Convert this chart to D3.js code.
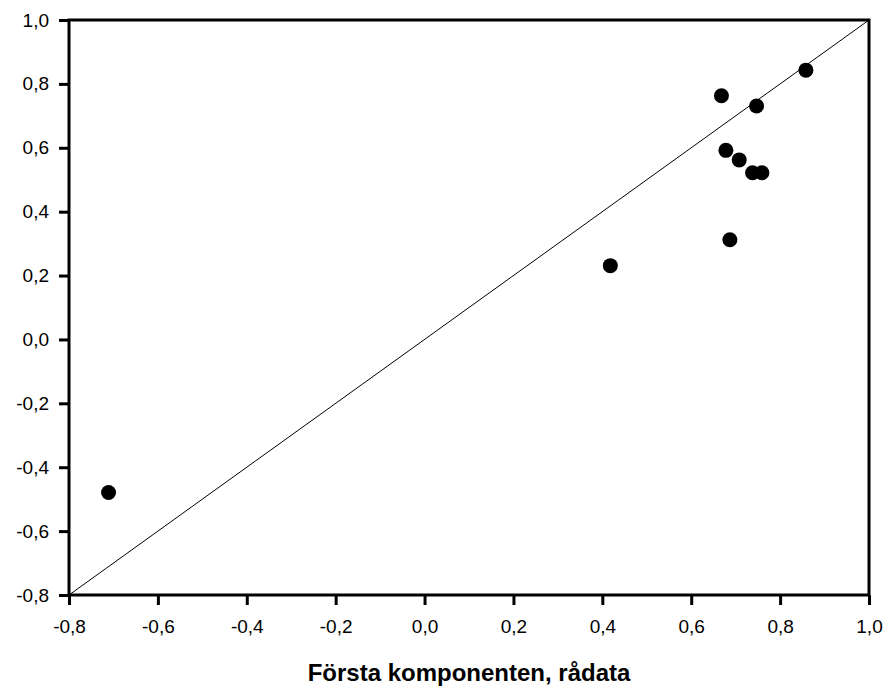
<!DOCTYPE html>
<html>
<head>
<meta charset="utf-8">
<script src="https://cdn.jsdelivr.net/npm/d3@7"></script>
<style>
  body { margin: 0; background: #fff; }
  svg { display: block; }
</style>
</head>
<body>
<svg width="886" height="690"></svg>
<script>
const xValues = [-0.711, 0.418, 0.668, 0.678, 0.687, 0.708, 0.738, 0.747, 0.759, 0.858];
const yValues = [-0.479, 0.231, 0.763, 0.592, 0.312, 0.562, 0.522, 0.731, 0.522, 0.843];
const tickValues = [-0.8, -0.6, -0.4, -0.2, 0.0, 0.2, 0.4, 0.6, 0.8, 1.0];
const xTitle = 'Första komponenten, rådata';

const data = xValues.map((x, i) => ({ x, y: yValues[i] }));

const width = 886;
const height = 690;
const margin = { top: 20, right: 17, bottom: 95, left: 69 };

const xScale = d3.scaleLinear([-0.8, 1.0], [margin.left, width - margin.right]);
const yScale = d3.scaleLinear([-0.8, 1.0], [height - margin.bottom, margin.top]);

const fmt = (d) => d3.format('.1f')(d).replace('.', ',').replace('−', '-');

const svg = d3.select('svg');

// diagonal reference line
svg.append('line')
  .attr('x1', xScale(-0.8))
  .attr('y1', yScale(-0.8))
  .attr('x2', xScale(1.0))
  .attr('y2', yScale(1.0))
  .attr('stroke', 'black')
  .attr('stroke-width', 1);

// frame
svg.append('rect')
  .attr('x', margin.left)
  .attr('y', margin.top)
  .attr('width', width - margin.left - margin.right)
  .attr('height', height - margin.top - margin.bottom)
  .attr('fill', 'none')
  .attr('stroke', 'black')
  .attr('stroke-width', 3);

const xAxis = d3.axisBottom(xScale).tickValues(tickValues).tickFormat(fmt).tickSize(10).tickSizeOuter(0).tickPadding(15);
const yAxis = d3.axisLeft(yScale).tickValues(tickValues).tickFormat(fmt).tickSize(10).tickSizeOuter(0).tickPadding(10);

const gx = svg.append('g')
  .attr('transform', `translate(0, ${height - margin.bottom})`)
  .call(xAxis);
const gy = svg.append('g')
  .attr('transform', `translate(${margin.left}, 0)`)
  .call(yAxis);

[gx, gy].forEach((g) => {
  g.select('.domain').remove();
  g.selectAll('line').attr('stroke', 'black').attr('stroke-width', 3);
  g.selectAll('text')
    .style('font-family', 'Liberation Sans, Arial, sans-serif')
    .style('font-size', '19px')
    .attr('fill', 'black');
});

svg.selectAll('circle')
  .data(data)
  .join('circle')
    .attr('cx', (d) => xScale(d.x))
    .attr('cy', (d) => yScale(d.y))
    .attr('r', 7.5)
    .attr('fill', 'black');

svg.append('text')
  .text(xTitle)
  .attr('x', (margin.left + width - margin.right) / 2)
  .attr('y', 681)
  .attr('text-anchor', 'middle')
  .style('font-family', 'Liberation Sans, Arial, sans-serif')
  .style('font-size', '24px')
  .style('font-weight', 'bold');
</script>
</body>
</html>
